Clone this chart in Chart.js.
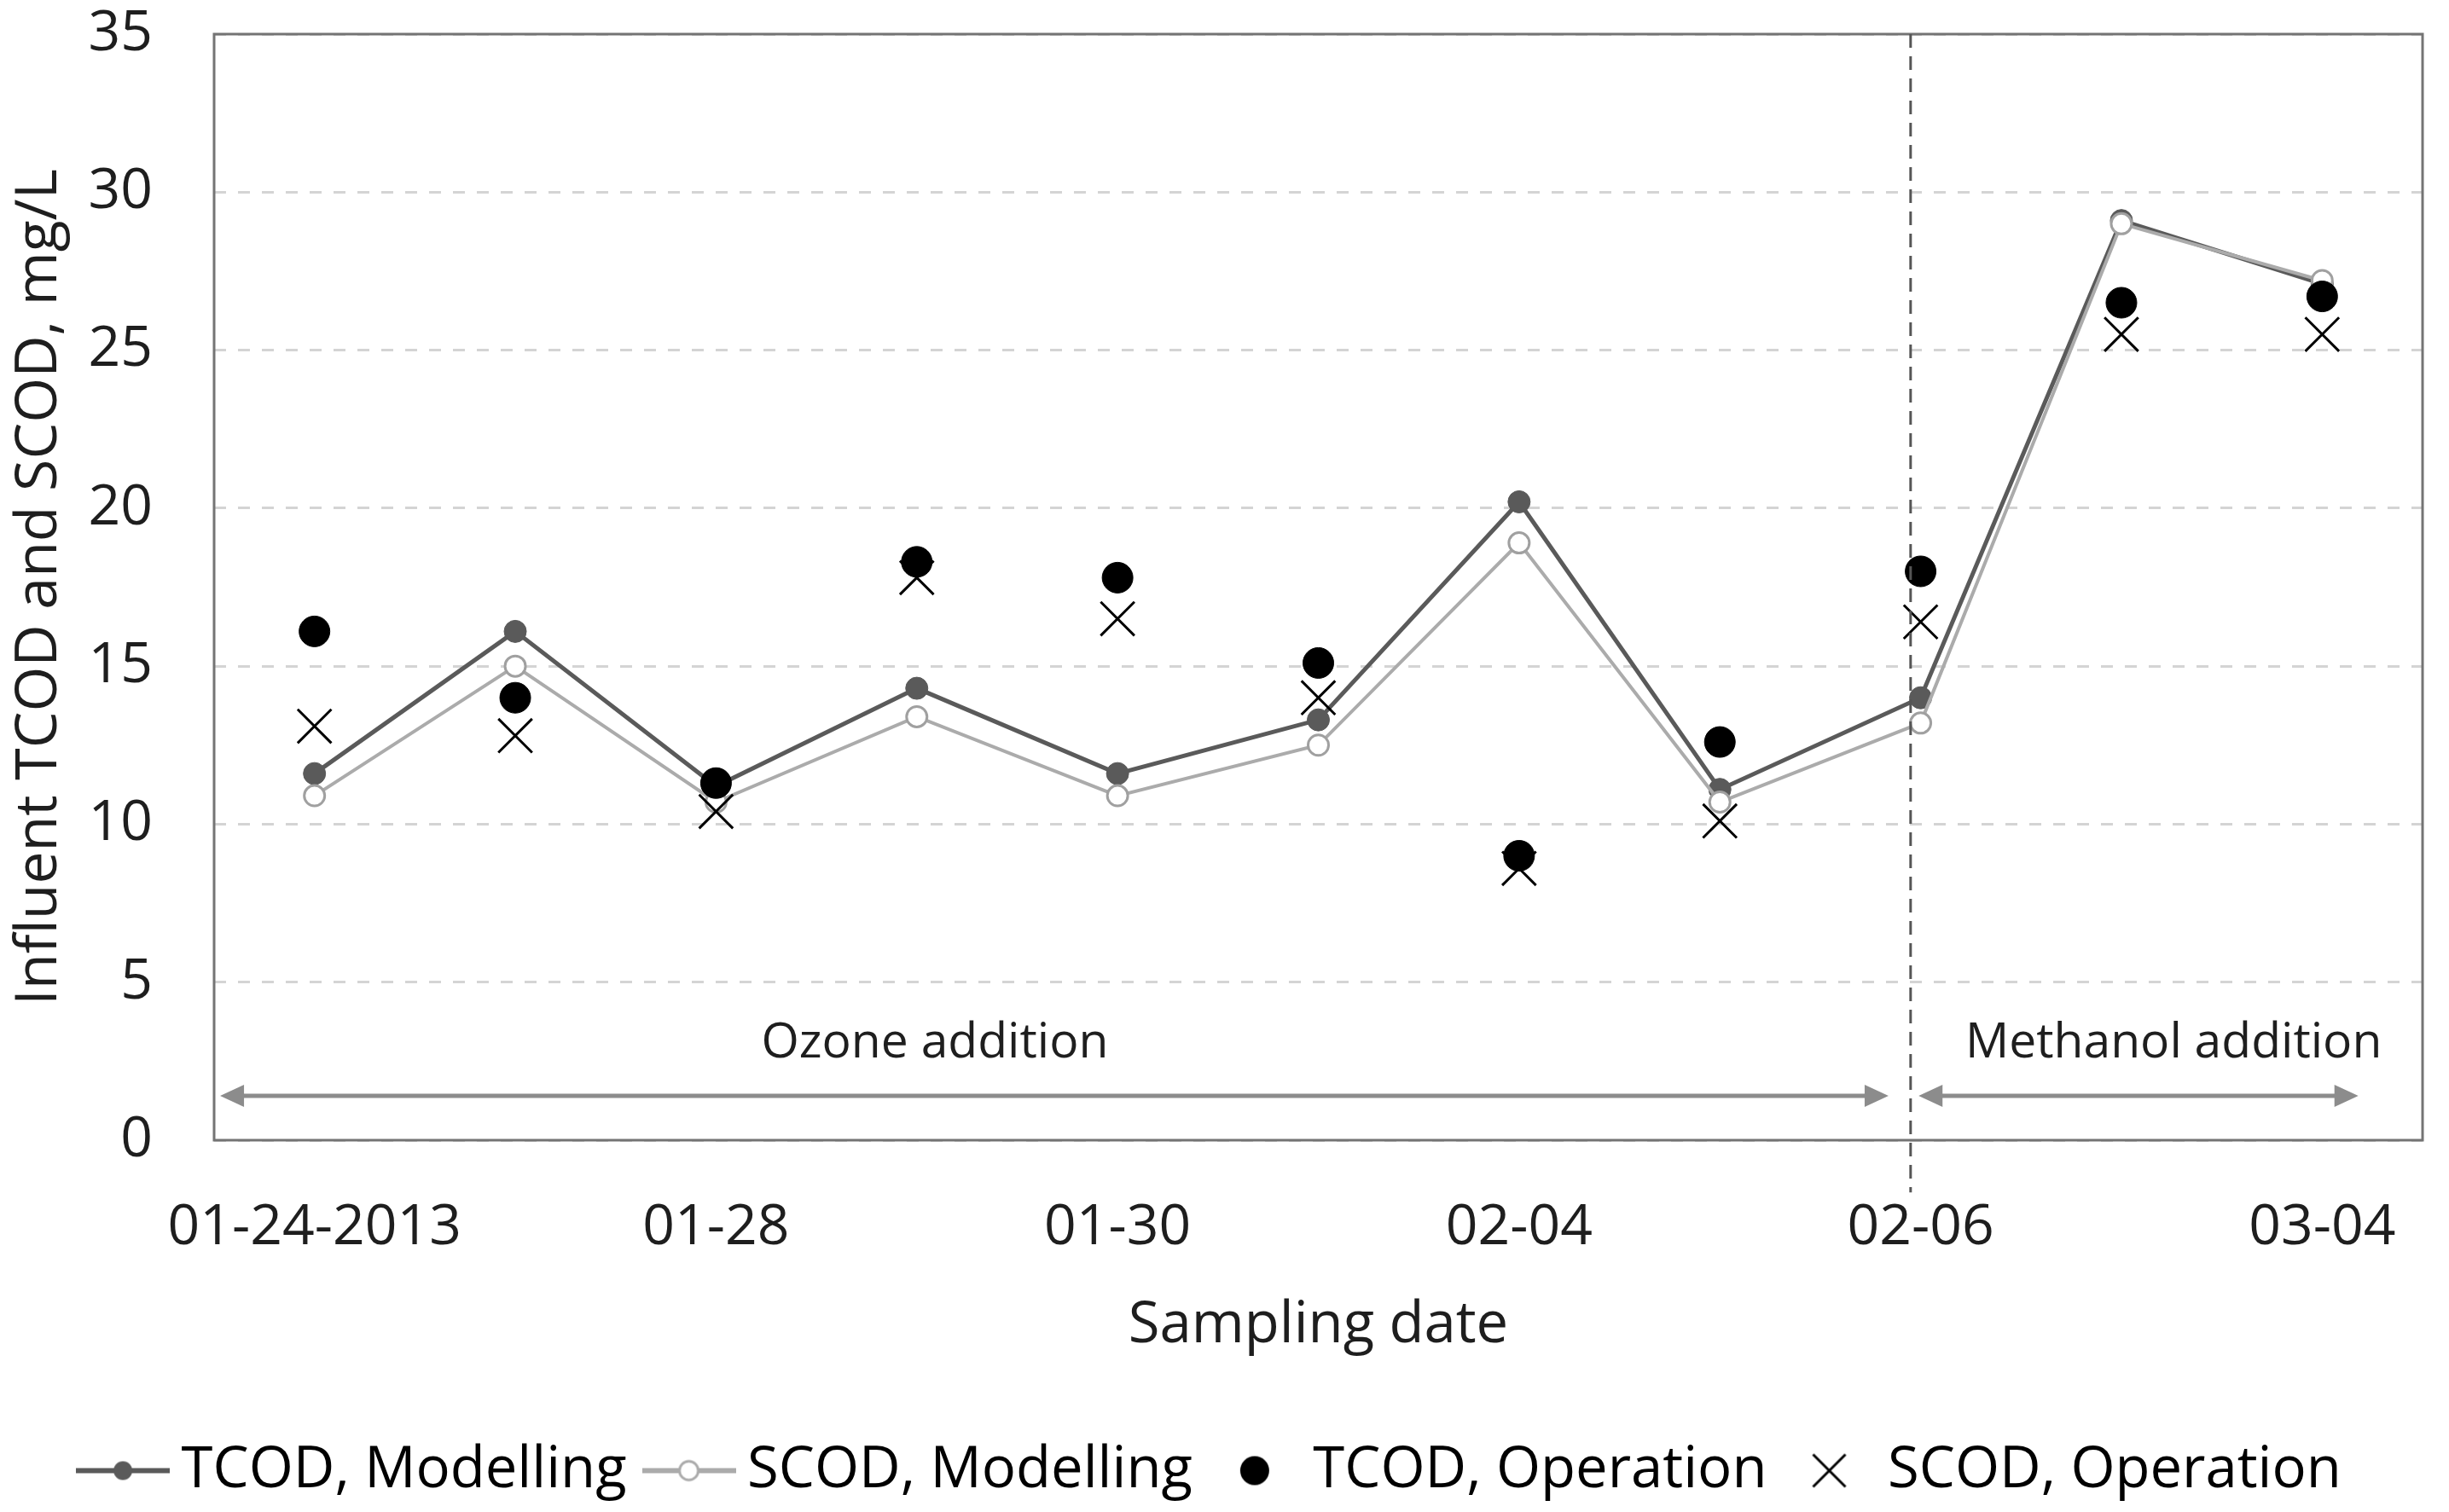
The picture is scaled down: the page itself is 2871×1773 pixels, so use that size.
<!DOCTYPE html>
<html>
<head>
<meta charset="utf-8">
<script src="https://cdn.jsdelivr.net/npm/chart.js@4.4.1/dist/chart.umd.min.js"></script>
<style>
  html, body { margin: 0; padding: 0; background: #fff; }
  #wrap { width: 2871px; height: 1773px; }
</style>
</head>
<body>
<div id="wrap"><canvas id="grafico" width="2871" height="1773"></canvas></div>
<script>
// ============================================================
//  DADOS
// ============================================================

const datas = ['01-24-2013', '', '01-28', '', '01-30', '', '02-04', '', '02-06', '', '03-04'];
const ticksY = [0, 5, 10, 15, 20, 25, 30, 35];

const tcodModelling = [11.6, 16.1, 11.2, 14.3, 11.6, 13.3, 20.2, 11.1, 14.0, 29.1, 27.1];
const scodModelling = [10.9, 15.0, 10.7, 13.4, 10.9, 12.5, 18.9, 10.7, 13.2, 29.0, 27.2];
const tcodOperation = [16.1, 14.0, 11.3, 18.3, 17.8, 15.1, 9.0, 12.6, 18.0, 26.5, 26.7];
const scodOperation = [13.1, 12.8, 10.4, 17.8, 16.5, 14.0, 8.6, 10.1, 16.4, 25.5, 25.5];

const fases = ['Ozone addition', 'Methanol addition'];

// ============================================================
//  ESTILO
// ============================================================

const FONTE = "'Open Sans', 'Noto Sans', sans-serif";
const TEXTO = '#1e1e1e';
const CINZA_ESCURO = '#5a5a5a';
const CINZA_CLARO = '#ababab';

// ícones da legenda (linha + marcador)
function criarIcone(tipo) {
    const c = document.createElement('canvas');
    c.width = 110;
    c.height = 44;
    const g = c.getContext('2d');
    const cx = 55, cy = 22;
    if (tipo === 'tcodLinha' || tipo === 'scodLinha') {
        g.strokeStyle = tipo === 'tcodLinha' ? CINZA_ESCURO : CINZA_CLARO;
        g.lineWidth = 6;
        g.beginPath();
        g.moveTo(0, cy);
        g.lineTo(110, cy);
        g.stroke();
        g.beginPath();
        g.arc(cx, cy, 11, 0, Math.PI * 2);
        if (tipo === 'tcodLinha') {
            g.fillStyle = CINZA_ESCURO;
            g.fill();
        } else {
            g.fillStyle = '#fff';
            g.fill();
            g.lineWidth = 3;
            g.strokeStyle = CINZA_CLARO;
            g.stroke();
        }
    } else if (tipo === 'ponto') {
        g.fillStyle = '#000';
        g.beginPath();
        g.arc(cx, cy, 17, 0, Math.PI * 2);
        g.fill();
    } else {
        g.strokeStyle = '#000';
        g.lineWidth = 3;
        g.beginPath();
        g.moveTo(cx - 19, cy - 19);
        g.lineTo(cx + 19, cy + 19);
        g.moveTo(cx + 19, cy - 19);
        g.lineTo(cx - 19, cy + 19);
        g.stroke();
    }
    return c;
}

const icones = [criarIcone('tcodLinha'), criarIcone('scodLinha'), criarIcone('ponto'), criarIcone('x')];

// ============================================================
//  ANOTAÇÕES (caixa, linha tracejada, setas, textos)
// ============================================================

function seta(ctx, x1, x2, y) {
    const comp = 28, meia = 13;
    ctx.beginPath();
    ctx.moveTo(x1 + comp - 2, y);
    ctx.lineTo(x2 - comp + 2, y);
    ctx.stroke();
    ctx.beginPath();
    ctx.moveTo(x1, y);
    ctx.lineTo(x1 + comp, y - meia);
    ctx.lineTo(x1 + comp, y + meia);
    ctx.closePath();
    ctx.fill();
    ctx.beginPath();
    ctx.moveTo(x2, y);
    ctx.lineTo(x2 - comp, y - meia);
    ctx.lineTo(x2 - comp, y + meia);
    ctx.closePath();
    ctx.fill();
}

const anotacoes = {
    id: 'anotacoes',
    beforeDatasetsDraw(chart) {
        const { ctx, chartArea: a } = chart;
        ctx.save();
        ctx.strokeStyle = '#747474';
        ctx.lineWidth = 3;
        ctx.strokeRect(a.left, a.top, a.right - a.left, a.bottom - a.top);
        ctx.restore();
    },
    afterDatasetsDraw(chart) {
        const { ctx, chartArea: a, scales: { x, y } } = chart;
        ctx.save();

        // divisão entre as fases
        const xDiv = x.getPixelForValue(7.95);
        ctx.strokeStyle = '#555';
        ctx.lineWidth = 3;
        ctx.setLineDash([16, 10]);
        ctx.beginPath();
        ctx.moveTo(xDiv, a.top);
        ctx.lineTo(xDiv, y.getPixelForValue(-1.65));
        ctx.stroke();
        ctx.setLineDash([]);

        // setas
        const ySeta = y.getPixelForValue(1.4);
        ctx.strokeStyle = '#8c8c8c';
        ctx.fillStyle = '#8c8c8c';
        ctx.lineWidth = 5;
        seta(ctx, x.getPixelForValue(-0.47), x.getPixelForValue(7.84), ySeta);
        seta(ctx, x.getPixelForValue(7.99), x.getPixelForValue(10.18), ySeta);

        // textos
        ctx.fillStyle = TEXTO;
        ctx.font = `57px ${FONTE}`;
        ctx.textAlign = 'center';
        ctx.textBaseline = 'middle';
        const yTexto = y.getPixelForValue(3.05);
        ctx.fillText(fases[0], x.getPixelForValue(3.09), yTexto);
        ctx.fillText(fases[1], x.getPixelForValue(9.26), yTexto);

        ctx.restore();
    }
};

// ============================================================
//  GRÁFICO
// ============================================================

new Chart(document.getElementById('grafico'), {
    type: 'line',
    data: {
        labels: datas,
        datasets: [
            {
                label: 'TCOD, Modelling',
                data: tcodModelling,
                borderColor: CINZA_ESCURO,
                borderWidth: 5,
                pointRadius: 13,
                pointBackgroundColor: CINZA_ESCURO,
                pointBorderColor: CINZA_ESCURO,
                pointBorderWidth: 1,
                tension: 0,
                order: 4
            },
            {
                label: 'SCOD, Modelling',
                data: scodModelling,
                borderColor: CINZA_CLARO,
                borderWidth: 4,
                pointRadius: 12,
                pointBackgroundColor: '#fff',
                pointBorderColor: '#a0a0a0',
                pointBorderWidth: 3,
                tension: 0,
                order: 3
            },
            {
                label: 'TCOD, Operation',
                data: tcodOperation,
                showLine: false,
                pointRadius: 18,
                pointBackgroundColor: '#000',
                pointBorderColor: '#000',
                pointBorderWidth: 1,
                order: 2
            },
            {
                label: 'SCOD, Operation',
                data: scodOperation,
                showLine: false,
                pointStyle: 'crossRot',
                pointRadius: 28,
                pointBorderColor: '#000',
                pointBorderWidth: 3,
                order: 1
            }
        ]
    },
    options: {
        responsive: false,
        devicePixelRatio: 1,
        animation: false,
        events: [],
        layout: { padding: { left: 0, right: 17, top: 40, bottom: 5 } },
        plugins: {
            tooltip: { enabled: false },
            legend: {
                position: 'bottom',
                labels: {
                    usePointStyle: true,
                    pointStyleWidth: 70,
                    padding: 38,
                    color: TEXTO,
                    font: { family: FONTE, size: 67 },
                    generateLabels: (chart) => chart.data.datasets.map((ds, i) => ({
                        text: ds.label,
                        pointStyle: icones[i],
                        fillStyle: '#000',
                        strokeStyle: '#000',
                        lineWidth: 0,
                        hidden: false,
                        datasetIndex: i
                    }))
                }
            }
        },
        scales: {
            x: {
                type: 'category',
                offset: true,
                grid: { display: false, drawTicks: false },
                border: { display: false },
                ticks: {
                    autoSkip: false,
                    maxRotation: 0,
                    padding: 64,
                    color: TEXTO,
                    font: { family: FONTE, size: 66 }
                },
                title: {
                    display: true,
                    text: 'Sampling date',
                    color: TEXTO,
                    font: { family: FONTE, size: 67 },
                    padding: { top: 0, bottom: 58 }
                },
                afterFit: (s) => {
                    s.height = 316;
                    s.paddingLeft = 0;
                    s.paddingRight = 0;
                }
            },
            y: {
                min: 0,
                max: 35,
                afterBuildTicks: (s) => { s.ticks = ticksY.map(v => ({ value: v })); },
                grid: { color: '#d4d4d4', lineWidth: 3, drawTicks: false },
                border: { display: false, dash: [14, 14] },
                ticks: {
                    padding: 72,
                    color: TEXTO,
                    font: { family: FONTE, size: 66 }
                },
                title: {
                    display: true,
                    text: 'Influent TCOD and SCOD, mg/L',
                    color: TEXTO,
                    font: { family: FONTE, size: 68 },
                    padding: { top: 6, bottom: 0 }
                },
                afterFit: (s) => {
                    s.width = 251;
                    s.paddingTop = 0;
                    s.paddingBottom = 0;
                }
            }
        }
    },
    plugins: [anotacoes]
});
</script>
</body>
</html>
